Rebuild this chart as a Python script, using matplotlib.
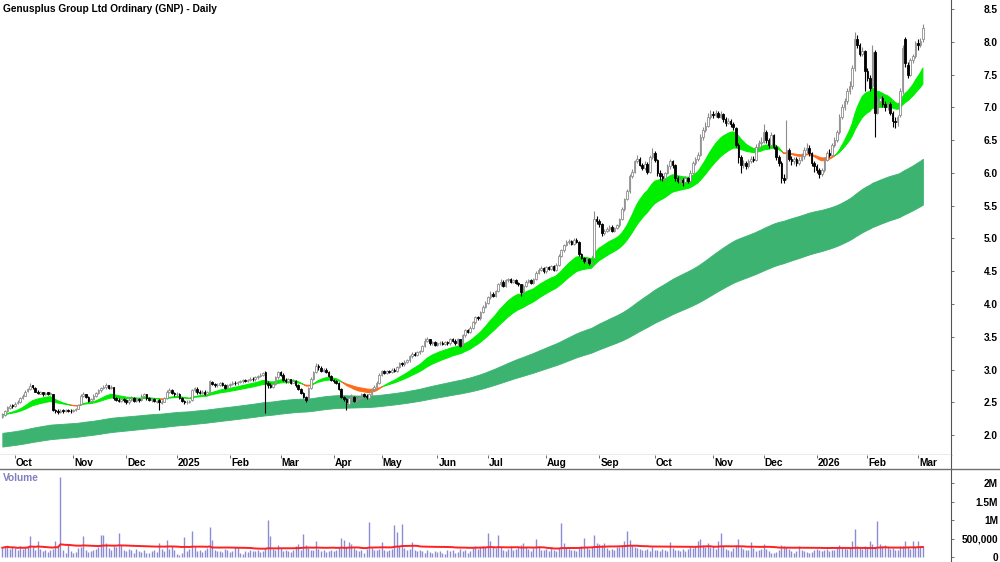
import numpy as np
import pandas as pd
import matplotlib
matplotlib.use("Agg")
import matplotlib.pyplot as plt
from matplotlib.ticker import FuncFormatter
from matplotlib.lines import Line2D

plt.rcParams['font.family'] = ['Liberation Sans', 'DejaVu Sans']

title = "Genusplus Group Ltd Ordinary (GNP) - Daily"
start_date = "2024-09-24"
end_date = "2026-03-04"
asx_holidays = ["2024-12-25", "2024-12-26", "2025-01-01", "2025-01-27", "2025-04-18",
                "2025-04-21", "2025-04-25", "2025-06-09", "2025-12-25", "2025-12-26",
                "2026-01-01", "2026-01-26"]

# one line per month: Sep-24 ... Mar-26
opens = [
    2.28, 2.31, 2.36, 2.42, 2.46,
    2.44, 2.49, 2.50, 2.57, 2.60, 2.67, 2.70, 2.76, 2.72, 2.66, 2.63, 2.65, 2.62, 2.65, 2.62, 2.62, 2.38, 2.37, 2.35, 2.38, 2.36, 2.38, 2.37,
    2.36, 2.38, 2.40, 2.47, 2.60, 2.62, 2.58, 2.52, 2.55, 2.60, 2.64, 2.68, 2.72, 2.73, 2.76, 2.72, 2.73, 2.57, 2.54, 2.52, 2.55,
    2.53, 2.50, 2.54, 2.57, 2.52, 2.55, 2.53, 2.60, 2.62, 2.56, 2.53, 2.55, 2.51, 2.53, 2.49, 2.51, 2.57, 2.66, 2.69, 2.64,
    2.62, 2.62, 2.56, 2.52, 2.50, 2.50, 2.53, 2.68, 2.71, 2.66, 2.64, 2.66, 2.62, 2.66, 2.81, 2.78, 2.76, 2.77, 2.79, 2.77, 2.72,
    2.76, 2.78, 2.80, 2.79, 2.81, 2.82, 2.84, 2.83, 2.84, 2.86, 2.85, 2.88, 2.90, 2.92, 2.96, 2.80, 2.77, 2.74, 2.78, 2.88,
    2.96, 2.92, 2.84, 2.82, 2.85, 2.80, 2.83, 2.76, 2.70, 2.64, 2.58, 2.55, 2.72, 2.86, 2.96, 3.06, 3.03, 2.98, 3.00, 2.96, 2.90,
    2.84, 2.82, 2.80, 2.70, 2.58, 2.55, 2.48, 2.56, 2.58, 2.52, 2.55, 2.57, 2.62, 2.60, 2.57, 2.62, 2.70, 2.74, 2.80,
    2.92, 2.97, 2.95, 2.98, 2.96, 3.00, 2.98, 3.04, 3.10, 3.08, 3.12, 3.14, 3.20, 3.24, 3.22, 3.26, 3.28, 3.36, 3.44, 3.46, 3.40, 3.42,
    3.38, 3.40, 3.41, 3.39, 3.42, 3.40, 3.46, 3.44, 3.40, 3.46, 3.38, 3.52, 3.60, 3.58, 3.64, 3.72, 3.80, 3.78, 3.88, 3.96,
    4.02, 4.10, 4.16, 4.12, 4.20, 4.30, 4.34, 4.28, 4.36, 4.38, 4.34, 4.36, 4.32, 4.30, 4.18, 4.28, 4.34, 4.36, 4.32, 4.38, 4.48, 4.52, 4.55,
    4.50, 4.56, 4.54, 4.58, 4.52, 4.60, 4.74, 4.82, 4.90, 4.94, 4.96, 4.92, 4.98, 4.95, 4.76, 4.70, 4.66, 4.68, 4.62, 4.70, 5.30,
    5.26, 5.22, 5.08, 5.12, 5.14, 5.18, 5.12, 5.16, 5.20, 5.30, 5.45, 5.60, 5.72, 5.95, 6.02, 6.18, 6.22, 6.12, 6.08, 6.14, 6.02, 6.25,
    6.30, 6.20, 6.00, 5.96, 5.92, 6.00, 6.10, 6.18, 6.12, 5.92, 5.88, 5.90, 5.86, 5.92, 5.88, 6.00, 6.15, 6.22, 6.28, 6.55, 6.65, 6.72, 6.85,
    6.90, 6.88, 6.92, 6.86, 6.90, 6.82, 6.76, 6.80, 6.74, 6.68, 6.42, 6.25, 6.12, 6.15, 6.10, 6.18, 6.22, 6.20, 6.40, 6.45,
    6.48, 6.62, 6.50, 6.42, 6.58, 6.40, 6.25, 6.15, 5.92, 5.92, 6.35, 6.22, 6.18, 6.22, 6.15, 6.20, 6.26, 6.35, 6.38, 6.30, 6.15,
    6.10, 6.05, 5.98, 6.05, 6.20, 6.30, 6.28, 6.42, 6.50, 6.62, 6.85, 7.00, 7.10, 7.25, 7.32, 7.60, 8.05, 7.95, 7.82, 7.86,
    7.55, 7.45, 7.32, 7.85, 6.92, 7.10, 7.15, 7.05, 7.00, 7.05, 6.92, 6.80, 6.78, 6.88, 7.25, 8.05, 7.65, 7.50, 7.72, 7.78,
    7.98, 7.96, 8.05,
]
highs = [
    2.33, 2.38, 2.45, 2.48, 2.47,
    2.50, 2.53, 2.58, 2.62, 2.68, 2.72, 2.79, 2.77, 2.73, 2.68, 2.67, 2.66, 2.66, 2.66, 2.66, 2.63, 2.40, 2.39, 2.39, 2.39, 2.40, 2.40, 2.39,
    2.40, 2.41, 2.48, 2.62, 2.65, 2.63, 2.59, 2.57, 2.62, 2.66, 2.70, 2.74, 2.76, 2.80, 2.77, 2.76, 2.74, 2.58, 2.56, 2.57, 2.57,
    2.55, 2.56, 2.59, 2.58, 2.57, 2.57, 2.62, 2.64, 2.63, 2.58, 2.57, 2.57, 2.54, 2.55, 2.53, 2.58, 2.68, 2.72, 2.70, 2.66,
    2.66, 2.64, 2.58, 2.54, 2.53, 2.54, 2.70, 2.74, 2.73, 2.68, 2.68, 2.68, 2.67, 2.84, 2.83, 2.80, 2.79, 2.81, 2.81, 2.78, 2.78,
    2.80, 2.82, 2.82, 2.83, 2.84, 2.86, 2.86, 2.86, 2.88, 2.88, 2.90, 2.92, 2.94, 2.96, 2.97, 2.82, 2.79, 2.80, 2.90, 2.98,
    2.98, 2.94, 2.87, 2.87, 2.86, 2.85, 2.84, 2.78, 2.72, 2.66, 2.60, 2.74, 2.88, 2.98, 3.10, 3.08, 3.05, 3.02, 3.02, 2.97, 2.92,
    2.86, 2.84, 2.81, 2.72, 2.60, 2.57, 2.58, 2.62, 2.60, 2.57, 2.60, 2.64, 2.64, 2.62, 2.64, 2.72, 2.76, 2.82, 2.94,
    2.99, 2.99, 3.00, 3.00, 3.02, 3.02, 3.06, 3.12, 3.12, 3.14, 3.16, 3.22, 3.26, 3.26, 3.28, 3.30, 3.38, 3.48, 3.50, 3.47, 3.44, 3.44,
    3.42, 3.43, 3.43, 3.44, 3.44, 3.48, 3.48, 3.46, 3.48, 3.47, 3.54, 3.62, 3.62, 3.66, 3.74, 3.82, 3.82, 3.90, 3.98, 4.05,
    4.12, 4.20, 4.18, 4.22, 4.32, 4.38, 4.36, 4.38, 4.40, 4.40, 4.38, 4.38, 4.34, 4.31, 4.30, 4.36, 4.38, 4.38, 4.40, 4.50, 4.55, 4.58, 4.57,
    4.58, 4.58, 4.60, 4.60, 4.62, 4.76, 4.84, 4.92, 4.98, 4.99, 4.98, 5.00, 5.00, 4.96, 4.78, 4.72, 4.70, 4.70, 4.66, 5.42, 5.34,
    5.30, 5.24, 5.14, 5.18, 5.20, 5.20, 5.18, 5.22, 5.32, 5.48, 5.62, 5.76, 5.98, 6.06, 6.20, 6.28, 6.24, 6.15, 6.18, 6.16, 6.28, 6.38,
    6.34, 6.22, 6.04, 6.00, 6.02, 6.14, 6.22, 6.20, 6.14, 5.95, 5.94, 5.92, 5.95, 5.94, 6.04, 6.18, 6.25, 6.32, 6.60, 6.70, 6.78, 6.92, 6.96,
    6.95, 6.96, 6.95, 6.94, 6.92, 6.85, 6.84, 6.82, 6.78, 6.70, 6.45, 6.28, 6.20, 6.18, 6.22, 6.26, 6.26, 6.44, 6.50, 6.55,
    6.75, 6.66, 6.54, 6.62, 6.60, 6.42, 6.28, 6.18, 5.98, 6.81, 6.38, 6.26, 6.25, 6.25, 6.24, 6.30, 6.40, 6.45, 6.42, 6.32, 6.18,
    6.14, 6.08, 6.08, 6.24, 6.34, 6.36, 6.46, 6.55, 6.66, 6.90, 7.05, 7.15, 7.30, 7.40, 7.65, 8.15, 8.10, 7.98, 7.92, 7.88,
    7.60, 7.50, 7.95, 7.88, 7.18, 7.20, 7.18, 7.10, 7.10, 7.08, 6.95, 6.85, 6.88, 7.30, 7.95, 8.08, 7.70, 7.76, 7.82, 8.02,
    8.05, 8.06, 8.28,
]
lows = [
    2.26, 2.29, 2.35, 2.40, 2.42,
    2.43, 2.47, 2.49, 2.55, 2.59, 2.65, 2.69, 2.71, 2.65, 2.62, 2.62, 2.60, 2.61, 2.61, 2.61, 2.36, 2.33, 2.32, 2.34, 2.34, 2.35, 2.35, 2.34,
    2.35, 2.36, 2.39, 2.46, 2.58, 2.56, 2.50, 2.50, 2.54, 2.58, 2.62, 2.66, 2.70, 2.71, 2.70, 2.70, 2.54, 2.52, 2.50, 2.50, 2.51,
    2.48, 2.48, 2.52, 2.50, 2.50, 2.51, 2.52, 2.58, 2.54, 2.52, 2.51, 2.50, 2.49, 2.38, 2.47, 2.50, 2.55, 2.64, 2.62, 2.60,
    2.60, 2.55, 2.50, 2.48, 2.48, 2.49, 2.52, 2.66, 2.63, 2.62, 2.62, 2.61, 2.61, 2.65, 2.76, 2.74, 2.74, 2.75, 2.75, 2.70, 2.70,
    2.74, 2.76, 2.77, 2.77, 2.79, 2.80, 2.81, 2.81, 2.82, 2.83, 2.83, 2.86, 2.88, 2.90, 2.33, 2.72, 2.72, 2.72, 2.76, 2.86,
    2.90, 2.82, 2.80, 2.80, 2.78, 2.79, 2.74, 2.68, 2.62, 2.56, 2.50, 2.54, 2.70, 2.84, 2.94, 3.00, 2.96, 2.96, 2.94, 2.88, 2.82,
    2.80, 2.78, 2.68, 2.56, 2.52, 2.38, 2.46, 2.54, 2.50, 2.50, 2.53, 2.55, 2.58, 2.55, 2.55, 2.60, 2.68, 2.72, 2.78,
    2.90, 2.93, 2.93, 2.94, 2.94, 2.96, 2.96, 3.02, 3.06, 3.06, 3.10, 3.12, 3.18, 3.20, 3.20, 3.24, 3.26, 3.34, 3.42, 3.38, 3.38, 3.36,
    3.36, 3.38, 3.37, 3.37, 3.38, 3.38, 3.42, 3.38, 3.38, 3.34, 3.36, 3.50, 3.56, 3.56, 3.62, 3.70, 3.75, 3.76, 3.86, 3.94,
    4.00, 4.08, 4.10, 4.10, 4.18, 4.28, 4.26, 4.26, 4.34, 4.32, 4.32, 4.30, 4.28, 4.12, 4.16, 4.26, 4.32, 4.30, 4.30, 4.36, 4.46, 4.50, 4.48,
    4.48, 4.52, 4.52, 4.50, 4.50, 4.58, 4.72, 4.80, 4.88, 4.92, 4.90, 4.90, 4.93, 4.74, 4.68, 4.62, 4.63, 4.60, 4.58, 4.68, 5.22,
    5.18, 5.04, 5.05, 5.10, 5.12, 5.10, 5.10, 5.14, 5.18, 5.28, 5.42, 5.58, 5.70, 5.92, 6.00, 6.15, 6.10, 6.04, 6.05, 5.98, 6.00, 6.22,
    6.16, 5.96, 5.90, 5.88, 5.88, 5.98, 6.06, 6.08, 5.88, 5.84, 5.84, 5.80, 5.84, 5.84, 5.86, 5.98, 6.12, 6.18, 6.26, 6.50, 6.62, 6.70, 6.82,
    6.84, 6.85, 6.84, 6.84, 6.78, 6.72, 6.74, 6.70, 6.66, 6.40, 6.15, 6.00, 6.08, 6.06, 6.08, 6.15, 6.16, 6.18, 6.36, 6.40,
    6.45, 6.46, 6.38, 6.40, 6.36, 6.20, 6.10, 5.85, 5.84, 5.90, 6.18, 6.12, 6.14, 6.10, 6.12, 6.18, 6.22, 6.30, 6.26, 6.10, 6.02,
    6.00, 5.92, 5.95, 6.02, 6.18, 6.24, 6.26, 6.40, 6.48, 6.60, 6.82, 6.96, 7.05, 7.20, 7.28, 7.55, 7.90, 7.78, 7.78, 7.25,
    7.40, 7.25, 7.28, 6.55, 6.90, 7.05, 7.00, 6.95, 6.96, 6.88, 6.70, 6.68, 6.72, 6.85, 7.20, 7.62, 7.45, 7.48, 7.68, 7.75,
    7.88, 7.92, 8.00,
]
closes = [
    2.31, 2.36, 2.43, 2.45, 2.44,
    2.48, 2.50, 2.56, 2.60, 2.66, 2.70, 2.75, 2.73, 2.66, 2.64, 2.65, 2.62, 2.64, 2.63, 2.64, 2.38, 2.36, 2.35, 2.37, 2.36, 2.38, 2.37, 2.36,
    2.38, 2.39, 2.46, 2.60, 2.62, 2.58, 2.52, 2.55, 2.60, 2.64, 2.68, 2.72, 2.74, 2.76, 2.72, 2.74, 2.56, 2.54, 2.52, 2.55, 2.53,
    2.50, 2.54, 2.57, 2.52, 2.55, 2.53, 2.60, 2.62, 2.56, 2.54, 2.55, 2.52, 2.52, 2.50, 2.51, 2.56, 2.66, 2.69, 2.64, 2.62,
    2.63, 2.56, 2.52, 2.50, 2.51, 2.52, 2.68, 2.72, 2.65, 2.64, 2.66, 2.63, 2.65, 2.82, 2.78, 2.76, 2.77, 2.79, 2.77, 2.72, 2.76,
    2.78, 2.80, 2.79, 2.81, 2.82, 2.84, 2.83, 2.84, 2.86, 2.85, 2.88, 2.90, 2.92, 2.94, 2.80, 2.76, 2.74, 2.78, 2.88, 2.96,
    2.92, 2.84, 2.82, 2.85, 2.80, 2.83, 2.76, 2.70, 2.64, 2.58, 2.54, 2.72, 2.86, 2.96, 3.06, 3.04, 2.98, 3.00, 2.96, 2.90, 2.84,
    2.82, 2.80, 2.70, 2.58, 2.55, 2.50, 2.56, 2.58, 2.52, 2.55, 2.57, 2.62, 2.60, 2.58, 2.62, 2.70, 2.74, 2.80, 2.92,
    2.97, 2.95, 2.98, 2.96, 3.00, 2.98, 3.04, 3.10, 3.08, 3.12, 3.14, 3.20, 3.24, 3.22, 3.26, 3.28, 3.36, 3.44, 3.46, 3.40, 3.42, 3.38,
    3.40, 3.41, 3.39, 3.42, 3.40, 3.46, 3.44, 3.40, 3.46, 3.36, 3.52, 3.60, 3.58, 3.64, 3.72, 3.80, 3.78, 3.88, 3.96, 4.02,
    4.10, 4.16, 4.12, 4.20, 4.30, 4.34, 4.28, 4.36, 4.38, 4.34, 4.36, 4.32, 4.30, 4.18, 4.28, 4.34, 4.36, 4.32, 4.38, 4.48, 4.52, 4.55, 4.50,
    4.56, 4.54, 4.58, 4.52, 4.60, 4.74, 4.82, 4.90, 4.94, 4.96, 4.92, 4.98, 4.95, 4.76, 4.70, 4.66, 4.68, 4.62, 4.64, 5.30, 5.26,
    5.22, 5.08, 5.12, 5.14, 5.18, 5.12, 5.16, 5.20, 5.30, 5.45, 5.60, 5.72, 5.95, 6.02, 6.18, 6.22, 6.12, 6.08, 6.14, 6.02, 6.25, 6.30,
    6.20, 6.00, 5.96, 5.92, 6.00, 6.10, 6.18, 6.12, 5.92, 5.88, 5.90, 5.86, 5.92, 5.88, 6.00, 6.15, 6.22, 6.28, 6.55, 6.65, 6.72, 6.85, 6.90,
    6.88, 6.92, 6.86, 6.90, 6.82, 6.76, 6.80, 6.74, 6.70, 6.42, 6.25, 6.12, 6.15, 6.10, 6.18, 6.22, 6.20, 6.40, 6.45, 6.48,
    6.62, 6.50, 6.42, 6.58, 6.40, 6.25, 6.15, 5.92, 5.90, 6.35, 6.22, 6.18, 6.22, 6.15, 6.20, 6.26, 6.35, 6.38, 6.30, 6.15, 6.10,
    6.05, 5.98, 6.05, 6.20, 6.30, 6.28, 6.42, 6.50, 6.62, 6.85, 7.00, 7.10, 7.25, 7.32, 7.60, 8.05, 7.95, 7.82, 7.86, 7.55,
    7.45, 7.30, 7.85, 6.92, 7.10, 7.15, 7.05, 7.00, 7.05, 6.92, 6.80, 6.78, 6.85, 7.25, 7.90, 7.68, 7.50, 7.72, 7.78, 7.98,
    7.96, 8.02, 8.22,
]
# volume in thousands of shares
volumes_k = [
    250, 280, 300, 220, 260,
    240, 180, 300, 220, 260, 310, 570, 260, 190, 420, 230, 160, 200, 140, 180, 220, 420, 260, 2160, 180, 120, 330, 150,
    110, 140, 250, 280, 570, 200, 130, 150, 190, 220, 280, 600, 600, 370, 250, 180, 310, 280, 660, 330, 200,
    150, 230, 180, 120, 210, 160, 140, 180, 120, 100, 160, 200, 140, 370, 210, 170, 460, 220, 300, 180,
    90, 60, 120, 550, 160, 230, 710, 280, 150, 200, 130, 180, 240, 800, 450, 200, 150, 170, 130, 220, 180,
    140, 160, 270, 270, 120, 90, 160, 130, 180, 150, 170, 200, 140, 160, 250, 1000, 570, 230, 180, 330,
    240, 150, 200, 170, 130, 190, 300, 350, 200, 610, 320, 250, 180, 200, 430, 220, 160, 190, 140, 170, 200,
    150, 180, 260, 520, 470, 280, 400, 360, 240, 200, 150, 180, 120, 220, 960, 250, 200, 180, 230,
    400, 200, 150, 180, 220, 860, 680, 300, 880, 250, 200, 220, 400, 180, 150, 200, 160, 120, 180, 140, 100, 160,
    130, 170, 120, 90, 180, 150, 200, 110, 140, 230, 160, 190, 120, 170, 250, 300, 220, 280, 310, 260,
    660, 420, 260, 240, 600, 280, 200, 150, 230, 300, 180, 220, 260, 330, 370, 280, 210, 160, 240, 500, 290, 200, 180,
    220, 150, 240, 200, 170, 250, 920, 370, 250, 230, 180, 200, 160, 240, 300, 520, 280, 230, 260, 600, 380,
    340, 320, 370, 250, 200, 230, 180, 260, 280, 330, 440, 700, 450, 300, 280, 250, 220, 180, 200, 230, 160, 260,
    200, 180, 150, 230, 200, 160, 400, 250, 180, 200, 160, 210, 150, 230, 260, 250, 300, 420, 500, 330, 280, 380, 260,
    300, 230, 430, 650, 300, 220, 180, 150, 240, 330, 500, 280, 230, 200, 180, 400, 250, 170, 200, 230,
    340, 220, 150, 120, 100, 130, 200, 330, 300, 280, 210, 150, 120, 160, 300, 200, 160, 140, 100, 130, 180,
    220, 200, 160, 190, 220, 170, 200, 180, 250, 330, 260, 240, 220, 280, 420, 750, 300, 260, 220, 300,
    280, 440, 360, 280, 980, 350, 300, 330, 260, 220, 250, 200, 180, 300, 300, 440, 260, 220, 420, 260,
    420, 300, 260,
]

# indicator settings (trend ribbons and volume average)
short_spans = (18, 34)
long_spans = (150, 240)
long_seeds = (2.03, 1.82)
vol_ma_window = 60

dates = pd.bdate_range(start_date, end_date, freq="C", holidays=asx_holidays)
n = min(len(dates), len(closes), len(opens), len(highs), len(lows), len(volumes_k))
dates = dates[:n]
o = np.array(opens[:n]); h = np.array(highs[:n]); l = np.array(lows[:n]); c = np.array(closes[:n])
v = np.array(volumes_k[:n]) * 1000.0
x = np.arange(n)


def ema(values, span, seed=None):
    a = 2.0 / (span + 1.0)
    out = np.empty(len(values))
    prev = values[0] if seed is None else seed
    for k, val in enumerate(values):
        prev = prev + a * (val - prev) if (k > 0 or seed is not None) else val
        out[k] = prev
    return out


s_fast = ema(c, short_spans[0])
s_slow = ema(c, short_spans[1])
l_fast = ema(c, long_spans[0], long_seeds[0])
l_slow = ema(c, long_spans[1], long_seeds[1])
vol_ma = pd.Series(v).rolling(vol_ma_window, min_periods=1).mean().values

W, H = 1000, 562
fig = plt.figure(figsize=(W / 100, H / 100), dpi=100)
right = 951 / W
price_bottom = 455
vol_top = 469
ax = fig.add_axes([0, 1 - price_bottom / H, right, price_bottom / H])
axd = fig.add_axes([0, (H - vol_top) / H, right, (vol_top - price_bottom) / H])
axv = fig.add_axes([0, 0, right, (H - vol_top) / H])

xlim = (-0.92, 375.1)
for a_ in (ax, axd, axv):
    a_.set_xlim(*xlim)
    a_.set_facecolor("white")
    for s in ("left", "top", "bottom", "right"):
        a_.spines[s].set_visible(False)

# Price panel
ax.set_ylim(1.695, 8.64)
ax.fill_between(x, l_fast, l_slow, color="#3cb371", lw=0.6, edgecolor="#3cb371", zorder=1)
green = s_fast >= s_slow
ax.fill_between(x, s_fast, s_slow, where=green, interpolate=True, color="#00ee00",
                edgecolor="#00ee00", lw=0.7, zorder=2)
ax.fill_between(x, s_fast, s_slow, where=~green, interpolate=True, color="#ff6a1a",
                edgecolor="#ff6a1a", lw=0.7, zorder=2)

up = c >= o
ax.vlines(x[up], l[up], h[up], color="#8c8c8c", lw=0.8, zorder=3)
ax.vlines(x[~up], l[~up], h[~up], color="black", lw=0.8, zorder=3)
ax.bar(x[up], c[up] - o[up], bottom=o[up], width=0.62, color="white", edgecolor="#8c8c8c", lw=0.6, zorder=4)
ax.bar(x[~up], c[~up] - o[~up], bottom=o[~up], width=0.62, color="black", edgecolor="black", lw=0.6, zorder=4)

ax.spines["right"].set_visible(True)
ax.spines["right"].set_color("#555555")
ax.spines["right"].set_linewidth(0.8)
ax.spines["bottom"].set_visible(True)
ax.spines["bottom"].set_color("#9a9a9a")
ax.spines["bottom"].set_linewidth(1.0)
ax.yaxis.tick_right()
ax.set_yticks(np.arange(2.0, 8.51, 0.5))
ax.yaxis.set_major_formatter(FuncFormatter(lambda val, pos: f"{val:.1f}"))
ax.tick_params(axis="y", direction="out", length=2.5, width=0.6, color="#555555",
               pad=31.3, labelsize=7.3)
ax.tick_params(axis="x", bottom=False, labelbottom=False)
for lab in ax.get_yticklabels():
    lab.set_ha("right")
    lab.set_fontweight("bold")

fig.text(3 / W, 1 - 9 / H, title, fontsize=7.3, fontweight="bold", va="center", ha="left")

# Date band
month_starts = [k for k in range(1, n) if dates[k].month != dates[k - 1].month]
month_labels = [str(dates[k].year) if dates[k].month == 1 else dates[k].strftime("%b") for k in month_starts]
axd.set_ylim(0, 1)
axd.set_yticks([])
axd.set_xticks(month_starts)
axd.xaxis.set_ticks_position("top")
axd.tick_params(axis="x", direction="in", length=2.5, width=0.6, color="#555555",
                labeltop=False, labelbottom=False)
for k, lab in zip(month_starts, month_labels):
    axd.text(k + 0.4, 0.45, lab, fontsize=7.3, fontweight="bold", ha="left", va="center")
axd.spines["right"].set_visible(True)
axd.spines["right"].set_color("#555555")
axd.spines["right"].set_linewidth(0.8)
fig.add_artist(Line2D([0, 1], [(H - vol_top) / H] * 2, color="#707070", lw=1.0,
                      transform=fig.transFigure))

# Volume panel
axv.set_ylim(-0.135e6, 2.38e6)
axv.vlines(x, 0, v, color="#8c8cd2", lw=1.0, zorder=2)
axv.plot(x, vol_ma, color="#ff2020", lw=1.4, zorder=3)
axv.spines["right"].set_visible(True)
axv.spines["right"].set_color("#555555")
axv.spines["right"].set_linewidth(0.8)
axv.yaxis.tick_right()
axv.set_yticks([0, 500000, 1000000, 1500000, 2000000])
axv.yaxis.set_major_formatter(FuncFormatter(
    lambda val, pos: "0" if val == 0 else ("500,000" if val == 500000 else f"{val / 1e6:g}M")))
axv.tick_params(axis="y", direction="out", length=2.5, width=0.6, color="#555555",
                pad=31.3, labelsize=7.3)
axv.tick_params(axis="x", bottom=False, labelbottom=False)
for lab in axv.get_yticklabels():
    lab.set_ha("right")
    lab.set_fontweight("bold")
fig.text(3 / W, 1 - 478 / H, "Volume", fontsize=7.3, fontweight="bold", color="#8080c0",
         va="center", ha="left")

fig.savefig("out.png", dpi=100)
